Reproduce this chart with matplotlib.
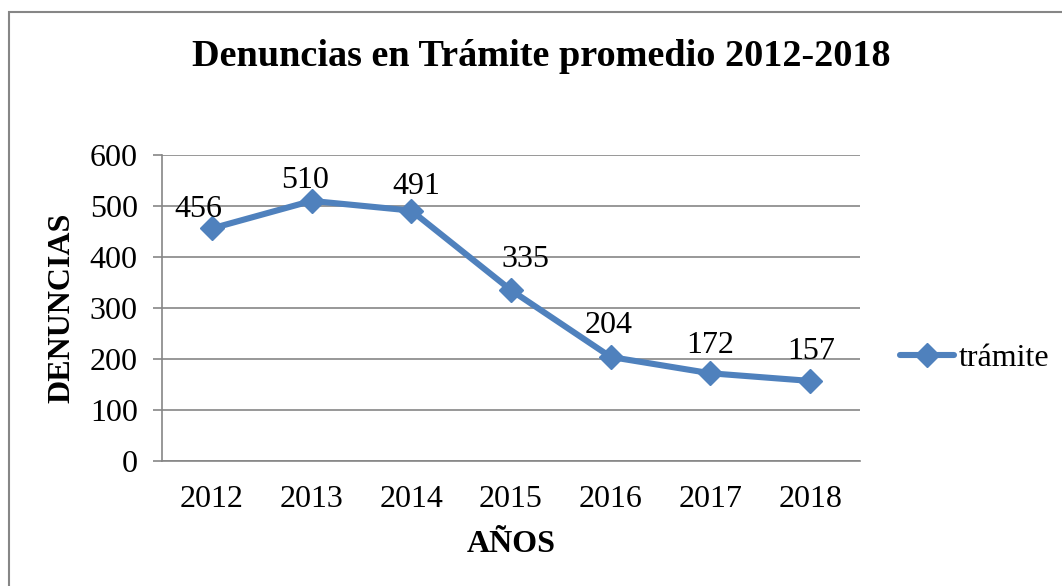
import matplotlib
matplotlib.use("Agg")
import matplotlib.pyplot as plt
from matplotlib.patches import Rectangle

years = ["2012", "2013", "2014", "2015", "2016", "2017", "2018"]
tramite = [456, 510, 491, 335, 204, 172, 157]
yticks = [0, 100, 200, 300, 400, 500, 600]

# data-label nudges (pixels), as placed in the original chart
label_dx = [-13, -7, 5, 14, -2, 0, 1]
label_dy = [11, 13, 17, 23, 24, 20, 22]

plt.rcParams['font.family'] = ['Liberation Serif', 'DejaVu Serif']

fig = plt.figure(figsize=(10.62, 5.86), dpi=100)
fig.patch.set_facecolor('white')

# outer border
fig.patches.append(Rectangle((9/1062, -0.05), 1.1, (586-12)/586 + 0.05,
                             transform=fig.transFigure, fill=False,
                             edgecolor='#868686', linewidth=1.5))

ax = fig.add_axes([162/1062, (586-461)/586, 698/1062, 306/586])
x = list(range(len(years)))
color = '#4F81BD'
ax.plot(x, tramite, color=color, linewidth=4.4, marker='D', markersize=12.5,
        label='trámite', solid_capstyle='round')

px2pt = 72 / 100
for xi, v, dx, dy in zip(x, tramite, label_dx, label_dy):
    ax.annotate(str(v), (xi, v), xytext=(dx * px2pt, dy * px2pt),
                textcoords='offset points', ha='center', va='baseline', fontsize=23)

ax.set_xlim(-0.5, len(years) - 0.5)
ax.set_ylim(0, 600)
ax.set_yticks(yticks)
ax.set_xticks(x)
ax.set_xticklabels(years)
ax.tick_params(axis='both', labelsize=23)
ax.tick_params(axis='x', length=0, pad=17)
ax.tick_params(axis='y', length=6.5, width=1.2, color='#868686', pad=11)
ax.grid(axis='y', color='#868686', linewidth=1.2)
ax.set_axisbelow(True)
for s in ['top', 'right']:
    ax.spines[s].set_visible(False)
for s in ['left', 'bottom']:
    ax.spines[s].set_color('#868686')
    ax.spines[s].set_linewidth(1.2)

ax.set_ylabel('DENUNCIAS', fontsize=23, fontweight='bold', va='center')
ax.yaxis.set_label_coords((62 - 162) / 698, 0.5)
ax.set_xlabel('AÑOS', fontsize=23, fontweight='bold', va='center')
ax.xaxis.set_label_coords(0.5, (461 - 545) / 306)

fig.text(541/1062, 1 - 56/586, 'Denuncias en Trámite promedio 2012-2018',
         ha='center', va='center', fontsize=27.5, fontweight='bold')

leg = ax.legend(loc='center left', bbox_to_anchor=((900 - 162) / 698, (461 - 358) / 306),
                frameon=False, fontsize=23, handlelength=1.7, handletextpad=0.15,
                borderaxespad=0, borderpad=0)

fig.savefig('out.png', dpi=100, facecolor='white')
